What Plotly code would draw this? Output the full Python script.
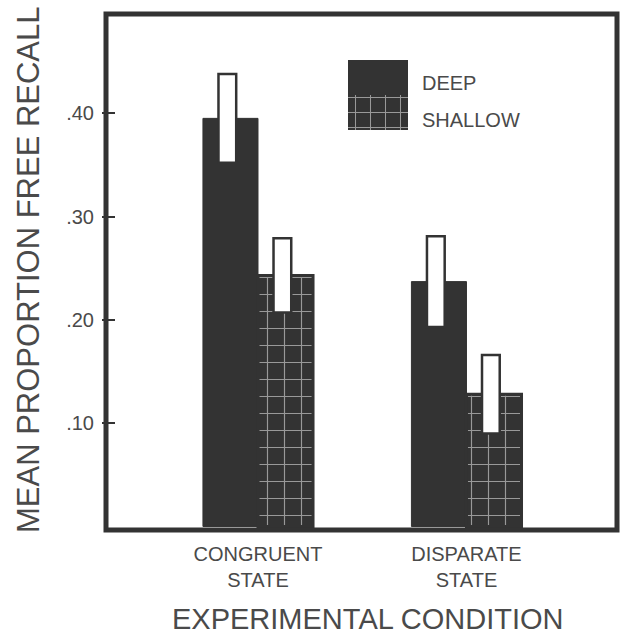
import plotly.graph_objects as go

# ---- data ----
conditions = ["CONGRUENT<br>STATE", "DISPARATE<br>STATE"]
deep_means = [0.395, 0.237]
deep_err = [0.043, 0.044]
shallow_means = [0.243, 0.128]
shallow_err = [0.036, 0.038]
y_tickvals = [0.10, 0.20, 0.30, 0.40]
y_ticktext = [".10", ".20", ".30", ".40"]
series_names = ["DEEP", "SHALLOW"]

DARK = "#333333"
TEXT = "#4a4a4a"
FONT = "Liberation Sans"

W, H = 622, 636
ML, MR, MT, MB = 106, 5, 14, 106
PW = W - ML - MR
PH = H - MT - MB

bar_w = 0.264
err_w = 0.085
shift = -0.015

fig = go.Figure()

# Deep bars
fig.add_trace(go.Bar(
    x=conditions, y=deep_means, name=series_names[0],
    width=bar_w, offset=-bar_w,
    marker=dict(color=DARK, line=dict(color=DARK, width=1)),
    showlegend=False,
))
# Shallow bars (patterned)
fig.add_trace(go.Bar(
    x=conditions, y=shallow_means, name=series_names[1],
    width=bar_w, offset=0,
    marker=dict(color=DARK, line=dict(color=DARK, width=3),
                pattern=dict(shape="+", fgcolor="white", bgcolor=DARK,
                             size=17, solidity=0.13)),
    showlegend=False,
))
# Error rectangles
fig.add_trace(go.Bar(
    x=conditions, y=[2 * e for e in deep_err],
    base=[m - e for m, e in zip(deep_means, deep_err)],
    width=err_w, offset=-bar_w / 2 - err_w / 2 + shift,
    marker=dict(color="white", line=dict(color=DARK, width=2.5)),
    showlegend=False,
))
fig.add_trace(go.Bar(
    x=conditions, y=[2 * e for e in shallow_err],
    base=[m - e for m, e in zip(shallow_means, shallow_err)],
    width=err_w, offset=bar_w / 2 - err_w / 2 + shift,
    marker=dict(color="white", line=dict(color=DARK, width=2.5)),
    showlegend=False,
))

# Legend swatch (on a hidden secondary axis)
def px_x(p):
    return (p - ML) / PW

def px_y(p):
    return (H - MB - p) / PH

fig.add_trace(go.Bar(
    x=[0], y=[1], base=[0], width=1, xaxis="x2", yaxis="y2",
    marker=dict(color=DARK, line=dict(width=0),
                pattern=dict(shape="+", fgcolor="white", bgcolor=DARK,
                             size=15, solidity=0.13)),
    showlegend=False, hoverinfo="skip",
))
fig.add_trace(go.Bar(
    x=[0], y=[1], base=[1], width=1, xaxis="x2", yaxis="y2",
    marker=dict(color=DARK, line=dict(width=0)),
    showlegend=False, hoverinfo="skip",
))

fig.update_layout(
    width=W, height=H,
    margin=dict(l=ML, r=MR, t=MT, b=MB),
    paper_bgcolor="white", plot_bgcolor="white",
    barmode="overlay",
    font=dict(family=FONT, color=TEXT),
    xaxis=dict(
        range=[-0.729, 1.722], showgrid=False, zeroline=False,
        showline=False, ticks="", tickfont=dict(size=20, color=TEXT),
        ticklabelstandoff=10,
    ),
    yaxis=dict(
        range=[-0.0034, 0.496], showgrid=False, zeroline=False,
        showline=False, ticks="outside", ticklen=3, tickwidth=2,
        tickcolor=DARK, tickvals=y_tickvals, ticktext=y_ticktext,
        tickfont=dict(size=20, color=TEXT), ticklabelstandoff=4,
        minor=dict(ticks="inside", ticklen=9, tickwidth=2, tickcolor=DARK,
                   tickvals=y_tickvals, showgrid=False),
    ),
    xaxis2=dict(domain=[px_x(348), px_x(408)], range=[-0.5, 0.5],
                visible=False, anchor="y2"),
    yaxis2=dict(domain=[px_y(130), px_y(60)], range=[0, 2],
                visible=False, anchor="x2"),
    shapes=[dict(type="rect", xref="paper", yref="paper",
                 x0=0, x1=1, y0=0, y1=1,
                 line=dict(color=DARK, width=5), layer="above")],
    annotations=[
        dict(text="DEEP", xref="paper", yref="paper",
             x=px_x(420), y=px_y(83), xanchor="left", yanchor="middle",
             showarrow=False, font=dict(size=20, color=TEXT)),
        dict(text="SHALLOW", xref="paper", yref="paper",
             x=px_x(420), y=px_y(120), xanchor="left", yanchor="middle",
             showarrow=False, font=dict(size=20, color=TEXT)),
        dict(text="MEAN PROPORTION FREE RECALL", xref="paper", yref="paper",
             x=px_x(28), y=px_y(270), xanchor="center", yanchor="middle",
             textangle=-90, showarrow=False, font=dict(size=31, color=TEXT)),
        dict(text="EXPERIMENTAL CONDITION", xref="paper", yref="paper",
             x=px_x(368), y=px_y(619), xanchor="center", yanchor="middle",
             showarrow=False, font=dict(size=29, color=TEXT)),
    ],
)

fig.write_html(
    "out.html",
    config={"displayModeBar": False},
    post_script="document.body.style.margin='0';document.body.style.overflow='hidden';",
)
